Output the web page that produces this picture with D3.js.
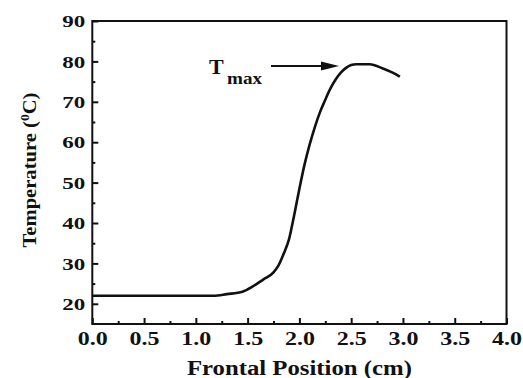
<!DOCTYPE html>
<html><head><meta charset="utf-8">
<script src="https://cdn.jsdelivr.net/npm/d3@7"></script>
<style>
html,body{margin:0;padding:0;background:#fff;}
svg text{font-family:"Liberation Serif","Times New Roman",Times,serif;font-weight:bold;fill:#111;}
</style></head>
<body><svg id="c" width="523" height="378"></svg>
<script>
const positions = [0, 0.5, 1.0, 1.17, 1.3, 1.45, 1.55, 1.65, 1.75, 1.80, 1.85, 1.90, 1.95, 2.0, 2.05, 2.1, 2.15, 2.2, 2.25, 2.3, 2.35, 2.4, 2.45, 2.5, 2.55, 2.68, 2.8, 2.9, 2.97];
const temperatures = [22, 22, 22, 22, 22.4, 23, 24.3, 26, 27.8, 29.6, 32.5, 36, 42, 48.5, 54.5, 59.5, 63.8, 67.5, 70.5, 73.3, 75.5, 77.2, 78.4, 79.1, 79.3, 79.3, 78.3, 77.2, 76.2];
const xMajorTicks = [0, 0.5, 1.0, 1.5, 2.0, 2.5, 3.0, 3.5, 4.0];
const xMinorTicks = [0.25, 0.75, 1.25, 1.75, 2.25, 2.75, 3.25, 3.75];
const yMajorTicks = [20, 30, 40, 50, 60, 70, 80, 90];
const yMinorTicks = [25, 35, 45, 55, 65, 75, 85];
const xTitle = "Frontal Position (cm)";
const yTitle = "Temperature (";
const annotation = {main: "T", sub: "max", x: 2.47, y: 79.2};

const svg = d3.select("#c");
const L = 92.3, R = 506.5, T = 21, B = 324;
const x = d3.scaleLinear().domain([0, 4]).range([L, R]);
const y = d3.scaleLinear().domain([15, 90]).range([B, T]);

// minor ticks
const gxm = svg.append("g").attr("transform", `translate(0,${B})`)
  .call(d3.axisBottom(x).tickValues(xMinorTicks).tickSizeInner(-3).tickSizeOuter(0).tickFormat(""));
const gym = svg.append("g").attr("transform", `translate(${L},0)`)
  .call(d3.axisLeft(y).tickValues(yMinorTicks).tickSizeInner(-3).tickSizeOuter(0).tickFormat(""));
// major ticks
const gx = svg.append("g").attr("transform", `translate(0,${B})`)
  .call(d3.axisBottom(x).tickValues(xMajorTicks).tickSizeInner(-6).tickSizeOuter(0).tickFormat(d3.format(".1f")));
const gy = svg.append("g").attr("transform", `translate(${L},0)`)
  .call(d3.axisLeft(y).tickValues(yMajorTicks).tickSizeInner(-6).tickSizeOuter(0).tickFormat(d3.format("d")));
[gxm, gym, gx, gy].forEach(g => {
  g.select(".domain").remove();
  g.selectAll(".tick line").attr("stroke", "#111").attr("stroke-width", 2);
});
gx.selectAll(".tick text")
  .attr("y", 21).attr("dy", 0)
  .attr("font-size", 18)
  .attr("textLength", 30).attr("lengthAdjust", "spacingAndGlyphs");
gy.selectAll(".tick text")
  .attr("x", -7).attr("dy", "0.35em")
  .attr("font-size", 16)
  .attr("text-anchor", "end")
  .attr("textLength", 23).attr("lengthAdjust", "spacingAndGlyphs");

// frame
svg.append("rect").attr("x", L).attr("y", T).attr("width", R - L).attr("height", B - T)
  .attr("fill", "none").attr("stroke", "#111").attr("stroke-width", 2);

// data line
const pts = positions.map((p, i) => [p, temperatures[i]]);
svg.append("path").datum(pts)
  .attr("fill", "none").attr("stroke", "#111").attr("stroke-width", 2.6)
  .attr("stroke-linejoin", "round")
  .attr("d", d3.line().x(d => x(d[0])).y(d => y(d[1])).curve(d3.curveMonotoneX));

// axis titles
svg.append("text").attr("x", (L + R) / 2).attr("y", 375)
  .attr("text-anchor", "middle").attr("font-size", 20)
  .attr("textLength", 225).attr("lengthAdjust", "spacingAndGlyphs")
  .text(xTitle);

const yt = svg.append("text")
  .attr("transform", `translate(36,170) rotate(-90)`)
  .attr("text-anchor", "middle").attr("font-size", 18)
  .attr("textLength", 155).attr("lengthAdjust", "spacingAndGlyphs");
yt.append("tspan").text(yTitle);
yt.append("tspan").attr("dy", -7).attr("font-size", 12).text("0");
yt.append("tspan").attr("dy", 7).text("C)");

// annotation
const ay = y(annotation.y) + 1.3, ax = 339;
svg.append("line").attr("x1", 271).attr("y1", ay).attr("x2", ax - 14).attr("y2", ay)
  .attr("stroke", "#111").attr("stroke-width", 2);
svg.append("path")
  .attr("d", `M${ax},${ay} L${ax - 18},${ay - 4.5} L${ax - 18},${ay + 4.5} Z`)
  .attr("fill", "#111");
svg.append("text").attr("x", 209).attr("y", 73.5).attr("font-size", 22).text(annotation.main);
svg.append("text").attr("x", 227).attr("y", 83.5).attr("font-size", 16)
  .attr("textLength", 35).attr("lengthAdjust", "spacingAndGlyphs").text(annotation.sub);
</script></body></html>
